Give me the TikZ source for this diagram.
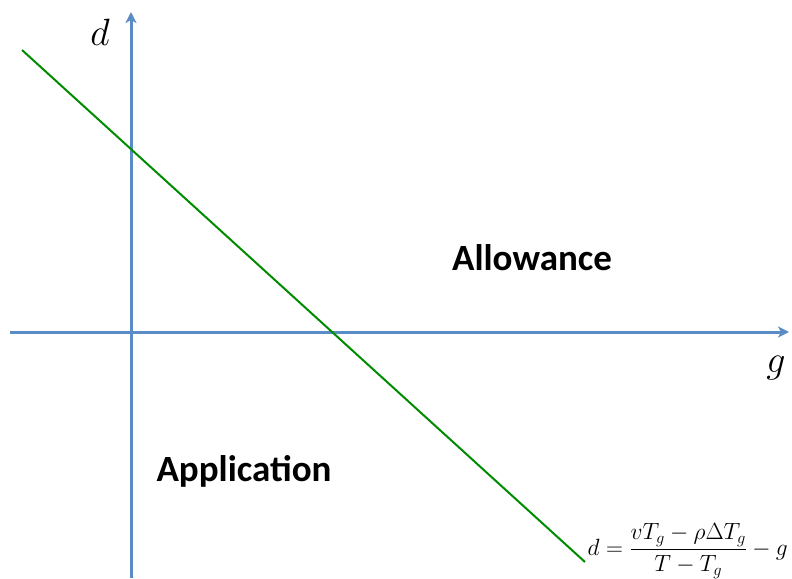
\documentclass[tikz,border=0pt]{standalone}
\usepackage{fix-cm}
\usepackage{fontspec}
\setsansfont{Carlito}
\usetikzlibrary{arrows.meta}
\definecolor{axisblue}{RGB}{90,140,198}
\definecolor{linegreen}{RGB}{0,140,0}
\begin{document}
\begin{tikzpicture}[x=1pt,y=-1pt,
  axis/.style={draw=axisblue,line width=3pt,-{Stealth[length=11pt,width=11pt,inset=3pt]}},
  region/.style={font=\sffamily\bfseries\fontsize{37}{44}\selectfont},
  axlabel/.style={font=\fontsize{38}{44}\selectfont}]
\useasboundingbox (0,0) rectangle (792,578);
\coordinate (xs) at (10,332);
\coordinate (xe) at (789,332);
\coordinate (ys) at (131,578);
\coordinate (ye) at (131,12);
\coordinate (gs) at (22,50);
\coordinate (ge) at (585,562);
\draw[axis] (xs) -- (xe);
\draw[axis] (ys) -- (ye);
\draw[linegreen,line width=2pt] (gs) -- (ge);
\node[axlabel] (dl) at (100,32) {$d$};
\node[axlabel] (gl) at (776,368) {$g$};
\node[region] (al) at (532,258) {Allowance};
\node[region] (ap) at (244,471) {Application};
\node[anchor=west,font=\fontsize{23.5}{28}\selectfont] (fm) at (584,551) {$\displaystyle d=\frac{vT_g-\rho\Delta T_g}{T-T_g}-g$};
\end{tikzpicture}
\end{document}
